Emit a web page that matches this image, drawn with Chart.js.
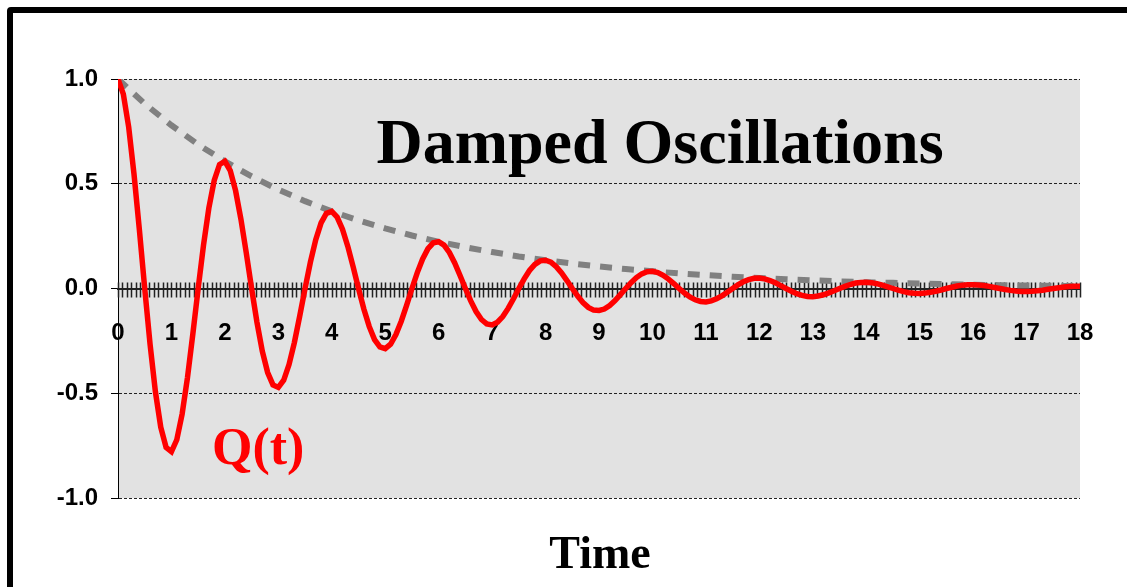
<!DOCTYPE html>
<html>
<head>
<meta charset="utf-8">
<script src="https://cdn.jsdelivr.net/npm/chart.js@4/dist/chart.umd.min.js"></script>
<style>
    html, body { margin: 0; padding: 0; background: #fff; overflow: hidden; }
    #wrap { position: relative; width: 1127px; height: 587px; }
    #frame {
        position: absolute; left: 7px; top: 7px; width: 1140px; height: 620px;
        border: 6px solid #000; border-radius: 4px; box-sizing: border-box;
    }
    canvas { position: absolute; left: 0; top: 0; }
</style>
</head>
<body>
<div id="wrap">
    <div id="frame"></div>
    <canvas id="chart" width="1127" height="587"></canvas>
</div>
<script>
// time samples, step 0.1
const times = Array.from({length: 181}, (_, i) => i / 10);

// Q(t), one row per 2 time units
const charge = [
    1.000, 0.928, 0.770, 0.545, 0.280, 0.000, -0.266, -0.493, -0.662, -0.759,
    -0.779, -0.722, -0.599, -0.425, -0.218, 0.000, 0.207, 0.384, 0.516, 0.592,
    0.607, 0.563, 0.467, 0.331, 0.170, 0.000, -0.161, -0.299, -0.401, -0.460,
    -0.472, -0.438, -0.363, -0.258, -0.132, 0.000, 0.126, 0.233, 0.313, 0.359,
    0.368, 0.341, 0.283, 0.201, 0.103, 0.000, -0.098, -0.181, -0.244, -0.279,
    -0.287, -0.266, -0.220, -0.156, -0.080, 0.000, 0.076, 0.141, 0.190, 0.218,
    0.223, 0.207, 0.172, 0.122, 0.062, 0.000, -0.059, -0.110, -0.148, -0.169,
    -0.174, -0.161, -0.134, -0.095, -0.049, 0.000, 0.046, 0.086, 0.115, 0.132,
    0.135, 0.126, 0.104, 0.074, 0.038, 0.000, -0.036, -0.067, -0.090, -0.103,
    -0.105, -0.098, -0.081, -0.058, -0.029, 0.000, 0.028, 0.052, 0.070, 0.080,
    0.082, 0.076, 0.063, 0.045, 0.023, 0.000, -0.022, -0.040, -0.054, -0.062,
    -0.064, -0.059, -0.049, -0.035, -0.018, 0.000, 0.017, 0.032, 0.042, 0.049,
    0.050, 0.046, 0.038, 0.027, 0.014, 0.000, -0.013, -0.025, -0.033, -0.038,
    -0.039, -0.036, -0.030, -0.021, -0.011, 0.000, 0.010, 0.019, 0.026, 0.029,
    0.030, 0.028, 0.023, 0.016, 0.008, 0.000, -0.008, -0.015, -0.020, -0.023,
    -0.024, -0.022, -0.018, -0.013, -0.007, 0.000, 0.006, 0.012, 0.016, 0.018,
    0.018, 0.017, 0.014, 0.010, 0.005, 0.000, -0.005, -0.009, -0.012, -0.014,
    -0.014, -0.013, -0.011, -0.008, -0.004, 0.000, 0.004, 0.007, 0.009, 0.011,
    0.011
];

// dotted envelope, step 0.5
const envTimes = [0, 0.5, 1, 1.5, 2, 2.5, 3, 3.5, 4, 4.5, 5, 5.5, 6, 6.5, 7, 7.5, 8, 8.5, 9,
    9.5, 10, 10.5, 11, 11.5, 12, 12.5, 13, 13.5, 14, 14.5, 15, 15.5, 16, 16.5, 17, 17.5, 18];
const envelope = [1.000, 0.882, 0.779, 0.687, 0.607, 0.535, 0.472, 0.417, 0.368, 0.325,
    0.287, 0.253, 0.223, 0.197, 0.174, 0.153, 0.135, 0.119, 0.105, 0.093, 0.082, 0.072,
    0.064, 0.056, 0.050, 0.044, 0.039, 0.034, 0.030, 0.027, 0.024, 0.021, 0.018, 0.016,
    0.014, 0.013, 0.011];

const xLabels = ['0', '1', '2', '3', '4', '5', '6', '7', '8', '9', '10', '11', '12', '13', '14', '15', '16', '17', '18'];
const yTicks = [-1.0, -0.5, 0.0, 0.5, 1.0];
const chartTitle = 'Damped Oscillations';
const seriesLabel = 'Q(t)';
const xTitle = 'Time';

// minor tick marks every 1/12 unit along the time axis
const xTickCount = 18 * 12;

const plotBackground = {
    id: 'plotBackground',
    beforeDraw(chart) {
        const {ctx, chartArea: a} = chart;
        ctx.save();
        ctx.fillStyle = '#e2e2e2';
        ctx.fillRect(a.left, a.top, a.right - a.left, a.bottom - a.top);
        ctx.restore();
    }
};

const crossTicks = {
    id: 'crossTicks',
    beforeDatasetsDraw(chart) {
        const {ctx} = chart;
        const xs = chart.scales.x;
        const y0 = chart.scales.y.getPixelForValue(0);
        ctx.save();
        ctx.strokeStyle = '#222';
        ctx.lineWidth = 1.5;
        ctx.beginPath();
        xs.ticks.forEach(t => {
            const px = Math.round(xs.getPixelForValue(t.value)) + 0.5;
            ctx.moveTo(px, y0 - 6);
            ctx.lineTo(px, y0 + 9);
        });
        ctx.stroke();
        ctx.restore();
    }
};

const textLabels = {
    id: 'textLabels',
    afterDraw(chart) {
        const {ctx} = chart;
        ctx.save();
        ctx.textBaseline = 'alphabetic';
        ctx.fillStyle = '#000';
        ctx.font = 'bold 64px "Liberation Serif", "Times New Roman", serif';
        ctx.textAlign = 'center';
        ctx.fillText(chartTitle, 660, 163);
        ctx.font = 'bold 46px "Liberation Serif", "Times New Roman", serif';
        ctx.fillText(xTitle, 600, 568);
        ctx.fillStyle = '#ff0000';
        ctx.textAlign = 'left';
        ctx.font = 'bold 52px "Liberation Serif", "Times New Roman", serif';
        ctx.fillText(seriesLabel, 212, 464);
        ctx.restore();
    }
};

new Chart(document.getElementById('chart'), {
    type: 'line',
    data: {
        datasets: [{
            label: seriesLabel,
            data: times.map((t, i) => ({x: t, y: charge[i]})),
            borderColor: '#ff0000',
            borderWidth: 5.5,
            pointRadius: 0,
            tension: 0,
            fill: false
        }, {
            label: 'envelope',
            data: envTimes.map((t, i) => ({x: t, y: envelope[i]})),
            borderColor: '#808080',
            borderWidth: 6,
            borderDash: [12, 10],
            borderCapStyle: 'butt',
            pointRadius: 0,
            tension: 0,
            fill: false
        }]
    },
    options: {
        responsive: false,
        animation: false,
        layout: {padding: {left: 0, top: 79, right: 47, bottom: 89}},
        plugins: {
            legend: {display: false},
            tooltip: {enabled: false},
            title: {display: false}
        },
        scales: {
            x: {
                type: 'linear',
                position: {y: 0},
                min: 0,
                max: 18,
                afterBuildTicks(scale) {
                    scale.ticks = Array.from({length: xTickCount + 1}, (_, i) => ({value: i / 12}));
                },
                grid: {display: true, drawOnChartArea: false, drawTicks: false},
                border: {display: true, color: '#222', width: 2},
                ticks: {
                    autoSkip: false,
                    maxRotation: 0,
                    padding: 30,
                    color: '#000',
                    font: {family: 'Arial, "Liberation Sans", sans-serif', size: 24, weight: 'bold'},
                    callback(value) {
                        const r = Math.round(value);
                        return Math.abs(value - r) < 1e-6 ? xLabels[r] : '';
                    }
                }
            },
            y: {
                type: 'linear',
                min: -1,
                max: 1,
                afterBuildTicks(scale) {
                    scale.ticks = yTicks.map(v => ({value: v}));
                },
                afterFit(scale) {
                    scale.width = 118;
                },
                grid: {
                    color: '#222',
                    lineWidth: 1,
                    drawTicks: true,
                    tickLength: 7,
                    tickColor: '#000',
                    tickBorderDash: []
                },
                border: {display: true, color: '#000', width: 1, dash: [3, 2]},
                ticks: {
                    padding: 13,
                    color: '#000',
                    font: {family: 'Arial, "Liberation Sans", sans-serif', size: 24, weight: 'bold'},
                    callback: (value) => value.toFixed(1)
                }
            }
        }
    },
    plugins: [plotBackground, crossTicks, textLabels]
});
</script>
</body>
</html>
